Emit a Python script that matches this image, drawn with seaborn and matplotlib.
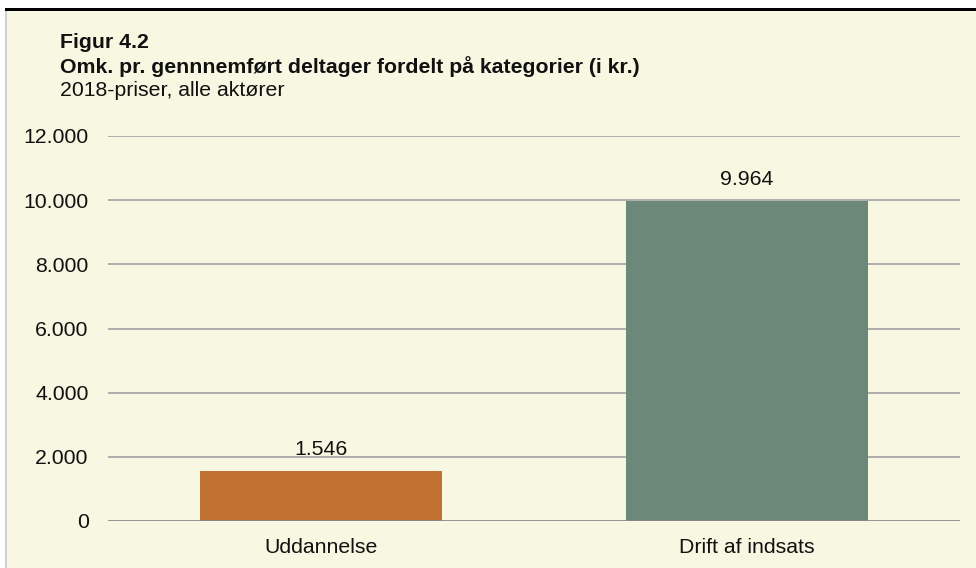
import matplotlib
matplotlib.use("Agg")
import matplotlib.pyplot as plt
import matplotlib.patches as mpatches
import seaborn as sns
import pandas as pd

# data
categories = ["Uddannelse", "Drift af indsats"]
values = [1546, 9964]
bar_colors = ["#C07030", "#6B8878"]
yticks = [0, 2000, 4000, 6000, 8000, 10000, 12000]

bg = "#F8F7E1"
fs = 15.3

sns.set_theme(style="white")
plt.rcParams["font.family"] = ["Liberation Sans", "DejaVu Sans"]

df = pd.DataFrame({"kategori": categories, "omk": values})

fig = plt.figure(figsize=(9.76, 5.68), dpi=100)
fig.patch.set_facecolor("white")

# panel background + borders
fig.patches.append(mpatches.Rectangle((7 / 976, 0), 969 / 976, 558 / 568,
                                      transform=fig.transFigure, facecolor=bg,
                                      edgecolor="none", zorder=-2))
fig.patches.append(mpatches.Rectangle((5 / 976, 0), 2 / 976, 558 / 568,
                                      transform=fig.transFigure, facecolor="#D0D0D0",
                                      edgecolor="none", zorder=-1))
fig.patches.append(mpatches.Rectangle((5 / 976, 557 / 568), 971 / 976, 3 / 568,
                                      transform=fig.transFigure, facecolor="black",
                                      edgecolor="none", zorder=-1))

ax = fig.add_axes([108 / 976, 47 / 568, 852 / 976, 385 / 568])
ax.set_facecolor("none")

sns.barplot(data=df, x="kategori", y="omk", hue="kategori", palette=bar_colors,
            width=0.57, legend=False, saturation=1, linewidth=0, ax=ax)

ax.set_ylim(0, 12000)
ax.set_xlim(-0.5, 1.5)
ax.set_yticks(yticks)
ax.set_yticklabels([f"{v:,}".replace(",", ".") for v in yticks], fontsize=fs)
ax.tick_params(axis="x", labelsize=fs, length=0, pad=12, labelcolor="#111111")
ax.tick_params(axis="y", length=0, pad=14, labelcolor="#111111")
ax.set_xlabel("")
ax.set_ylabel("")

for y in yticks[1:]:
    ax.axhline(y, color="#A8A8A8", lw=1.3, zorder=0)
ax.axhline(0, color="#8A8A8A", lw=2, zorder=3)

for s in ax.spines.values():
    s.set_visible(False)

for i, v in enumerate(values):
    ax.text(i, v + 680, f"{v:,}".replace(",", "."), ha="center", va="center",
            fontsize=fs, color="#111111")

fig.text(60 / 976, 1 - 43 / 568, "Figur 4.2", fontsize=fs, fontweight="bold",
         va="center", color="#111111")
fig.text(60 / 976, 1 - 67 / 568, "Omk. pr. gennnemført deltager fordelt på kategorier (i kr.)",
         fontsize=fs, fontweight="bold", va="center", color="#111111")
fig.text(60 / 976, 1 - 91 / 568, "2018-priser, alle aktører", fontsize=fs,
         va="center", color="#111111")

fig.savefig("out.png", dpi=100, facecolor=fig.get_facecolor())
